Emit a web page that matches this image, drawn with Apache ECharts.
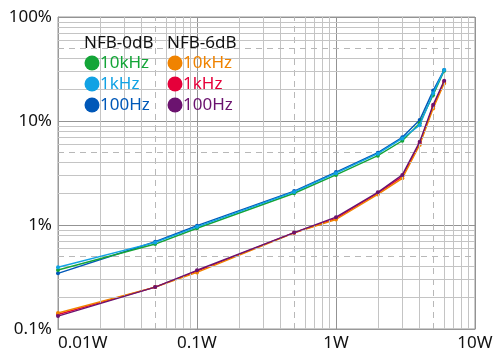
<!DOCTYPE html>
<html><head><meta charset="utf-8">
<script src="https://cdn.jsdelivr.net/npm/echarts@6/dist/echarts.min.js"></script>
<style>html,body{margin:0;padding:0;background:#fff}#c{width:500px;height:361px}</style>
</head><body><div id="c"></div>
<script>
// Data
const watts = [0.01, 0.05, 0.1, 0.5, 1, 2, 3, 4, 5, 6];
const nfb0_10k = [0.369, 0.656, 0.93, 2.02, 3.03, 4.64, 6.46, 9.5, 17.8, 30.5];
const nfb0_1k  = [0.392, 0.68, 0.96, 2.08, 3.15, 4.85, 6.8, 9.1, 18.5, 31];
const nfb0_100 = [0.343, 0.69, 0.985, 2.12, 3.23, 4.96, 6.97, 10.2, 19.6, 31];
const nfb6_10k = [0.1426, 0.253, 0.35, 0.84, 1.13, 1.97, 2.81, 5.88, 13.2, 23];
const nfb6_1k  = [0.138, 0.253, 0.36, 0.843, 1.16, 2.02, 2.92, 6.1, 13.8, 23.7];
const nfb6_100 = [0.133, 0.253, 0.367, 0.845, 1.19, 2.06, 3.03, 6.3, 14.3, 24.4];
const groupTitles = ['NFB-0dB', 'NFB-6dB'];
const freqNames = ['10kHz', '1kHz', '100Hz'];
const xTicks = {0.01: '0.01W', 0.1: '0.1W', 1: '1W', 10: '10W'};
const yTicks = {0.1: '0.1%', 1: '1%', 10: '10%', 100: '100%'};

const colors0 = ['#14a538', '#12a2e4', '#0058b8'];
const colors6 = ['#f08300', '#e5003a', '#6b136f'];
const FONT = '"Noto Sans", sans-serif';

function pairs(ys) { return watts.map((w, i) => [w, ys[i]]); }

// grid helper lines (positions)
const minorColor = '#c4c4c4', dashColor = '#b8b8b8';
const gl = [];
[0.01, 0.1, 1].forEach(d => {
  [2,3,4,6,7,8,9].forEach(m => gl.push({xAxis: +(d*m).toPrecision(3), lineStyle:{color:minorColor, width:1, type:'solid'}}));
  gl.push({xAxis: +(d*5).toPrecision(3), lineStyle:{color:dashColor, width:1, type:[6,5]}});
});
[0.1, 1, 10].forEach(d => {
  [2,3,4,6,7,8,9].forEach(m => gl.push({yAxis: +(d*m).toPrecision(3), lineStyle:{color:minorColor, width:1, type:'solid'}}));
  gl.push({yAxis: +(d*5).toPrecision(3), lineStyle:{color:dashColor, width:1, type:[6,5]}});
});

const all = [
  {name:'6|1k', data:nfb6_1k, color:colors6[1]},
  {name:'6|10k', data:nfb6_10k, color:colors6[0]},
  {name:'6|100', data:nfb6_100, color:colors6[2]},
  {name:'0|100', data:nfb0_100, color:colors0[2]},
  {name:'0|10k', data:nfb0_10k, color:colors0[0]},
  {name:'0|1k', data:nfb0_1k, color:colors0[1]},
];

const series = [{
  type:'line', name:'grid', data:[[0.01,0.1]], symbol:'none', lineStyle:{opacity:0}, z:1, silent:true,
  markLine:{silent:true, symbol:['none','none'], label:{show:false}, animation:false, data: gl}
}].concat(all.map((s, i) => ({
  type:'line', name:s.name, data:pairs(s.data), z:3+i,
  symbol:'circle', symbolSize:4, color:s.color,
  lineStyle:{width:1.4, color:s.color}, itemStyle:{color:s.color}
})));

// legend graphics
const graphic = [];
const cols = [{cx:92, tx:100, hx:84, colors:colors0, title:groupTitles[0]}, {cx:175, tx:183, hx:167, colors:colors6, title:groupTitles[1]}];
const rowsY = [63, 84, 105];
cols.forEach(c => {
  graphic.push({type:'text', x:c.hx, y:43, z:100, style:{text:c.title, fill:'#111', font:'17px ' + FONT, verticalAlign:'middle', align:'left'}});
  freqNames.forEach((f, j) => {
    graphic.push({type:'circle', z:100, shape:{cx:c.cx, cy:rowsY[j], r:7.5}, style:{fill:c.colors[j]}});
    graphic.push({type:'text', x:c.tx, y:rowsY[j], z:100, style:{text:f, fill:c.colors[j], font:'17px ' + FONT, verticalAlign:'middle', align:'left'}});
  });
});

const chart = echarts.init(document.getElementById('c'), null, {renderer:'canvas'});
chart.setOption({
  animation:false,
  backgroundColor:'#fff',
  grid:{left:58, right:25, top:17, bottom:32, show:true, borderColor:'#999', borderWidth:1},
  xAxis:{type:'log', logBase:10, min:0.01, max:10,
    axisLine:{show:true, lineStyle:{color:'#999'}}, axisTick:{show:false},
    axisLabel:{color:'#111', fontSize:17, fontFamily:FONT, margin:6, alignMinLabel:'left', alignMaxLabel:'center',
      formatter: v => xTicks[+v.toPrecision(3)] || ''},
    splitLine:{show:true, lineStyle:{color:'#939393', width:1}}},
  yAxis:{type:'log', logBase:10, min:0.1, max:100,
    axisLine:{show:true, lineStyle:{color:'#999'}}, axisTick:{show:false},
    axisLabel:{color:'#111', fontSize:17, fontFamily:FONT, margin:6,
      formatter: v => yTicks[+v.toPrecision(3)] || ''},
    splitLine:{show:true, lineStyle:{color:'#939393', width:1}}},
  graphic: graphic,
  series: series
});
</script></body></html>
